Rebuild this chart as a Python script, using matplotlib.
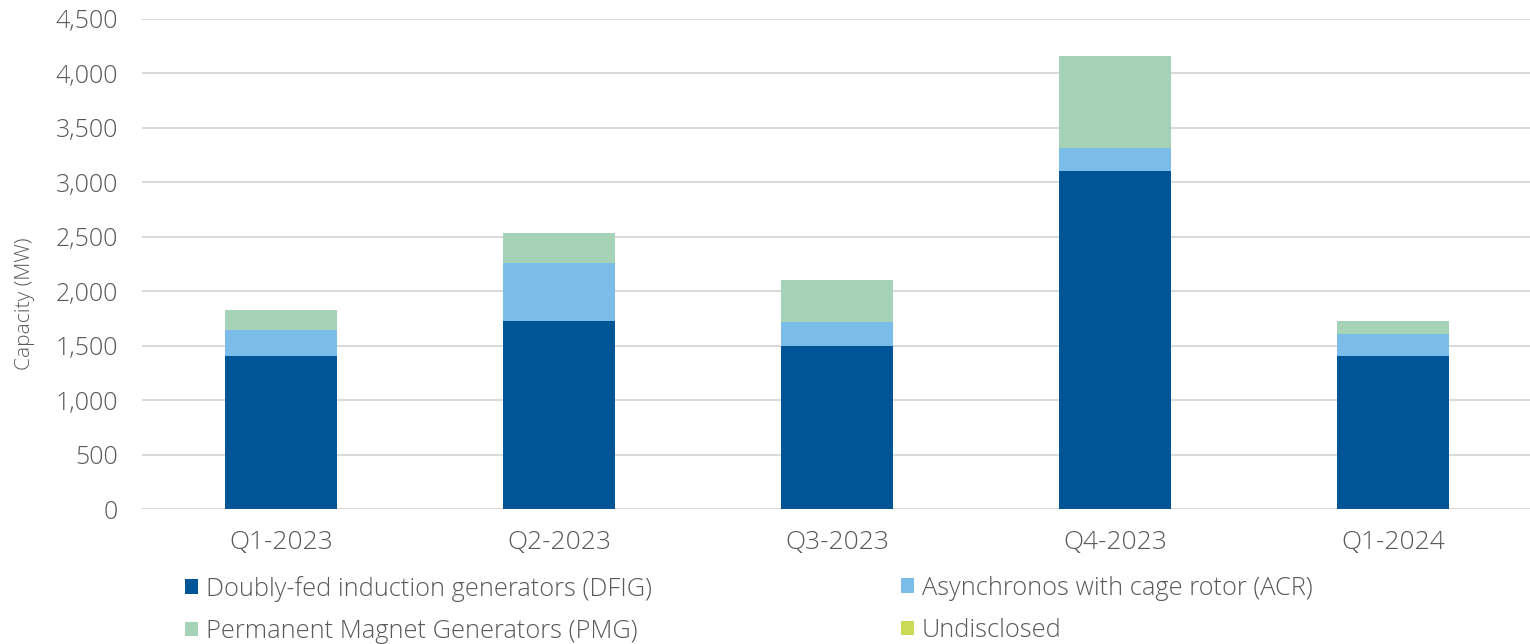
import matplotlib
matplotlib.use("Agg")
import matplotlib.pyplot as plt
from matplotlib.patches import Patch
from matplotlib.ticker import FuncFormatter
import numpy as np

# Quarterly installed capacity by generator type (MW)
quarters = ["Q1-2023", "Q2-2023", "Q3-2023", "Q4-2023", "Q1-2024"]
dfig = [1411, 1727, 1497, 3103, 1405]
acr = [235, 532, 226, 216, 208]
pmg = [183, 278, 383, 842, 119]
undisclosed = [0, 0, 0, 0, 0]

series_names = [
    "Doubly-fed induction generators (DFIG)",
    "Asynchronos with cage rotor (ACR)",
    "Permanent Magnet Generators (PMG)",
    "Undisclosed",
]
series_values = [dfig, acr, pmg, undisclosed]
series_colors = ["#005596", "#7bbde8", "#a6d3b8", "#cbd957"]

text_color = "#595959"
plt.rcParams["font.family"] = ["Open Sans", "DejaVu Sans"]
plt.rcParams["font.weight"] = "light"

fig = plt.figure(figsize=(15.3, 6.44), dpi=100)
ax = fig.add_axes([0.0928, 0.2089, 0.9085, 0.7616])

x = np.arange(len(quarters))
bottom = np.zeros(len(quarters))
for name, vals, col in zip(series_names, series_values, series_colors):
    v = np.array(vals, dtype=float)
    ax.bar(x, v, width=0.4, bottom=bottom, color=col, label=name, zorder=3)
    bottom += v

ax.set_xlim(-0.5, len(quarters) - 0.5)
ax.set_ylim(0, 4500)
ax.set_yticks(np.arange(0, 4501, 500))
ax.yaxis.set_major_formatter(FuncFormatter(lambda v, p: f"{int(v):,}"))
ax.set_xticks(x)
ax.set_xticklabels(quarters)
ax.grid(axis="y", color="#d9d9d9", linewidth=1.4, zorder=0)
for s in ax.spines.values():
    s.set_visible(False)
ax.tick_params(axis="both", length=0, labelcolor=text_color)
ax.tick_params(axis="y", pad=17, labelsize=18)
ax.tick_params(axis="x", pad=15, labelsize=19)

fig.text(0.0165, 0.529, "Capacity (MW)", rotation=90, ha="center", va="center",
         fontsize=15, color=text_color)

handles = [Patch(facecolor=c, edgecolor="none") for c in series_colors]
leg_kw = dict(frameon=False, fontsize=18.3, handlelength=0.52, handleheight=0.52,
              handletextpad=0.3, labelspacing=0.68, labelcolor=text_color,
              borderaxespad=0, borderpad=0)
leg1 = fig.legend([handles[0], handles[2]], [series_names[0], series_names[2]],
                  loc="upper left", bbox_to_anchor=(0.121, 0.106), **leg_kw)
leg2 = fig.legend([handles[1], handles[3]], [series_names[1], series_names[3]],
                  loc="upper left", bbox_to_anchor=(0.589, 0.106), **leg_kw)

fig.savefig("out.png", dpi=100)
